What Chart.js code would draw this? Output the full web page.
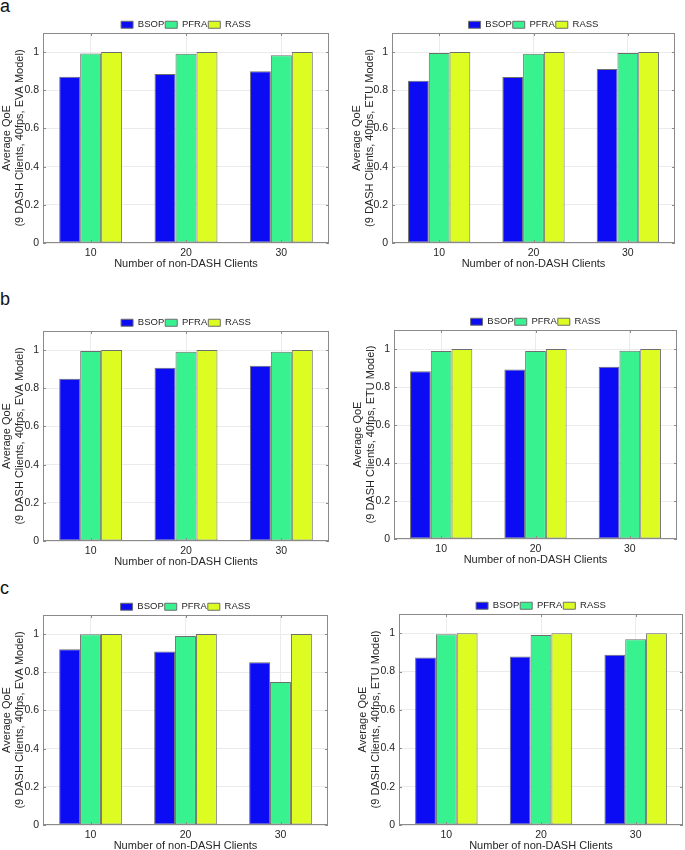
<!DOCTYPE html>
<html>
<head>
<meta charset="utf-8">
<script src="https://cdn.jsdelivr.net/npm/chart.js@4.4.0/dist/chart.umd.min.js"></script>
<style>
  body { margin: 0; width: 685px; height: 850px; background: #fff; position: relative; overflow: hidden; font-family: 'Liberation Sans', Arial, sans-serif; }
  canvas { position: absolute; }
  .tag { position: absolute; left: 0; font-size: 18px; line-height: 18px; color: #111; }
</style>
</head>
<body>
<div class="tag" style="top:-3px">a</div>
<div class="tag" style="top:290px">b</div>
<div class="tag" style="top:579px">c</div>
<canvas id="aEva"></canvas>
<canvas id="aEtu"></canvas>
<canvas id="bEva"></canvas>
<canvas id="bEtu"></canvas>
<canvas id="cEva"></canvas>
<canvas id="cEtu"></canvas>
<script>
const categories = ['10', '20', '30'];
const seriesNames = ['BSOP', 'PFRA', 'RASS'];
const yTicks = [0, 0.2, 0.4, 0.6, 0.8, 1];

// row a
const aEvaBSOP = [0.871, 0.885, 0.899];
const aEvaPFRA = [0.993, 0.991, 0.983];
const aEvaRASS = [1, 1, 1];
const aEtuBSOP = [0.850, 0.869, 0.911];
const aEtuPFRA = [0.995, 0.991, 0.995];
const aEtuRASS = [1, 1, 1];

// row b
const bEvaBSOP = [0.850, 0.907, 0.918];
const bEvaPFRA = [0.995, 0.991, 0.991];
const bEvaRASS = [1, 1, 1];
const bEtuBSOP = [0.883, 0.892, 0.907];
const bEtuPFRA = [0.990, 0.990, 0.991];
const bEtuRASS = [1, 1, 1];

// row c
const cEvaBSOP = [0.921, 0.909, 0.852];
const cEvaPFRA = [0.999, 0.990, 0.749];
const cEvaRASS = [1, 1, 1];
const cEtuBSOP = [0.873, 0.878, 0.887];
const cEtuPFRA = [0.995, 0.990, 0.969];
const cEtuRASS = [1, 1, 1];

const colors = ['#0c0cf4', '#38f290', '#dcfc22'];
const textColor = '#262626';

Chart.defaults.font.family = "'Liberation Sans', Arial, sans-serif";
Chart.defaults.color = textColor;

// plot box with inward ticks, like the matlab axes
const boxPlugin = {
    id: 'box',
    afterDatasetsDraw(chart) {
        const { ctx, chartArea: a, scales: { x, y } } = chart;
        ctx.save();
        ctx.strokeStyle = '#8a8a8a';
        ctx.lineWidth = 1;
        ctx.strokeRect(a.left + 0.5, a.top + 0.5, a.width - 1, a.height - 1);
        ctx.beginPath();
        y.ticks.forEach((t) => {
            const py = Math.round(y.getPixelForValue(t.value)) + 0.5;
            ctx.moveTo(a.left, py); ctx.lineTo(a.left + 3, py);
            ctx.moveTo(a.right, py); ctx.lineTo(a.right - 3, py);
        });
        x.ticks.forEach((t, i) => {
            const px = Math.round(x.getPixelForTick(i)) + 0.5;
            ctx.moveTo(px, a.bottom); ctx.lineTo(px, a.bottom - 3);
            ctx.moveTo(px, a.top); ctx.lineTo(px, a.top + 3);
        });
        ctx.stroke();
        ctx.restore();
    }
};

const legendFit = {
    id: 'legendFit',
    beforeInit(chart) {
        const fit = chart.legend.fit;
        chart.legend.fit = function () {
            fit.call(this);
            this.height = 14;
        };
    }
};

function makePanel(id, g, bsop, pfra, rass, model) {
    const canvas = document.getElementById(id);
    const w = g.R - g.left + 2;
    const h = g.B - g.T + 42;
    canvas.width = w;
    canvas.height = h;
    canvas.style.width = w + 'px';
    canvas.style.height = h + 'px';
    canvas.style.left = g.left + 'px';
    canvas.style.top = (g.T - 14) + 'px';

    const values = [bsop, pfra, rass];
    new Chart(canvas, {
        type: 'bar',
        data: {
            labels: categories,
            datasets: seriesNames.map((name, i) => ({
                label: name,
                data: values[i],
                backgroundColor: colors[i],
                borderColor: '#6e6e6e',
                borderWidth: 1,
                borderSkipped: false,
                categoryPercentage: 0.66,
                barPercentage: 1
            }))
        },
        options: {
            responsive: false,
            animation: false,
            layout: { padding: { top: 0, right: 2, bottom: 0, left: 0 } },
            plugins: {
                tooltip: { enabled: false },
                legend: {
                    position: 'top',
                    fullSize: false,
                    labels: {
                        boxWidth: 12,
                        boxHeight: 7,
                        padding: 1,
                        color: textColor,
                        font: { size: 9.5 }
                    }
                }
            },
            scales: {
                x: {
                    grid: { color: '#ebebeb', offset: false, drawTicks: false },
                    border: { display: false },
                    ticks: { padding: 4, font: { size: 10.5 }, color: textColor },
                    title: {
                        display: true,
                        text: 'Number of non-DASH Clients',
                        padding: 0,
                        font: { size: 11 },
                        color: textColor
                    },
                    afterFit: (s) => { s.height = 28; }
                },
                y: {
                    min: 0,
                    max: 1.1,
                    grid: { color: '#ebebeb', drawTicks: false },
                    border: { display: false },
                    ticks: {
                        padding: 4,
                        font: { size: 10.5 },
                        color: textColor,
                        callback: (v) => String(Number(v.toFixed(1)))
                    },
                    afterBuildTicks: (s) => { s.ticks = yTicks.map((v) => ({ value: v })); },
                    afterFit: (s) => { s.width = g.L - g.left; },
                    title: {
                        display: true,
                        text: ['Average QoE', '(9 DASH Clients, 40fps, ' + model + ' Model)'],
                        padding: 0,
                        font: { size: 11, lineHeight: 1.2 },
                        color: textColor
                    }
                }
            }
        },
        plugins: [boxPlugin, legendFit]
    });
}

makePanel('aEva', { left: 0, L: 43, R: 329, T: 33, B: 243 }, aEvaBSOP, aEvaPFRA, aEvaRASS, 'EVA');
makePanel('aEtu', { left: 350, L: 392, R: 675, T: 33, B: 243 }, aEtuBSOP, aEtuPFRA, aEtuRASS, 'ETU');
makePanel('bEva', { left: 0, L: 43, R: 329, T: 331, B: 541 }, bEvaBSOP, bEvaPFRA, bEvaRASS, 'EVA');
makePanel('bEtu', { left: 351, L: 394, R: 677, T: 330, B: 539 }, bEtuBSOP, bEtuPFRA, bEtuRASS, 'ETU');
makePanel('cEva', { left: 0, L: 43, R: 328, T: 615, B: 825 }, cEvaBSOP, cEvaPFRA, cEvaRASS, 'EVA');
makePanel('cEtu', { left: 356, L: 399, R: 683, T: 614, B: 825 }, cEtuBSOP, cEtuPFRA, cEtuRASS, 'ETU');
</script>
</body>
</html>
